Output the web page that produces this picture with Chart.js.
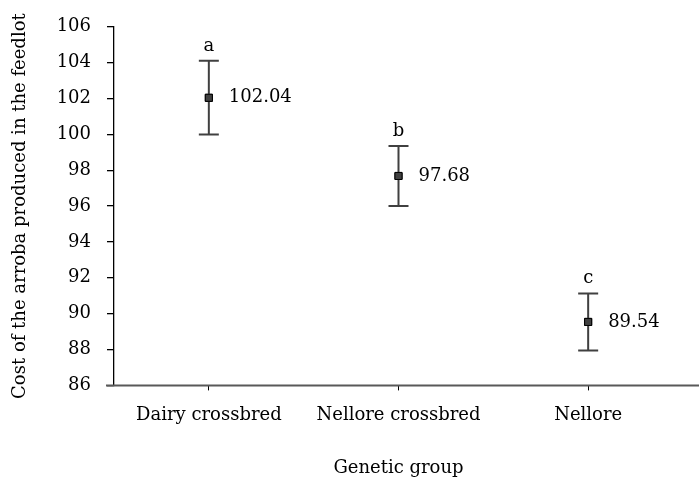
<!DOCTYPE html>
<html>
<head>
<meta charset="utf-8">
<script src="https://cdn.jsdelivr.net/npm/chart.js@4"></script>
<style>
  html, body { margin: 0; padding: 0; background: #fff; }
  #wrap { width: 699px; height: 477px; }
</style>
</head>
<body>
<div id="wrap"><canvas id="chart" width="699" height="477"></canvas></div>
<script>
  // data
  const groups = ['Dairy crossbred', 'Nellore crossbred', 'Nellore'];
  const means = [102.04, 97.68, 89.54];
  const errLow = [100.0, 96.0, 87.95];
  const errHigh = [104.1, 99.35, 91.13];
  const letters = ['a', 'b', 'c'];
  const yTicks = [86, 88, 90, 92, 94, 96, 98, 100, 102, 104, 106];

  const FONT = 'DejaVu Serif';
  const FS = 18;

  // error bars, letters and value labels
  const errorBars = {
    id: 'errorBars',
    afterDatasetsDraw(chart) {
      const ctx = chart.ctx;
      const x = chart.scales.x, y = chart.scales.y;
      ctx.save();
      ctx.strokeStyle = '#404040';
      ctx.lineWidth = 2;
      groups.forEach((g, i) => {
        const px = x.getPixelForValue(i);
        const top = y.getPixelForValue(errHigh[i]);
        const bot = y.getPixelForValue(errLow[i]);
        ctx.beginPath();
        ctx.moveTo(px, top); ctx.lineTo(px, bot);
        ctx.moveTo(px - 10, top); ctx.lineTo(px + 10, top);
        ctx.moveTo(px - 10, bot); ctx.lineTo(px + 10, bot);
        ctx.stroke();

        ctx.fillStyle = '#000';
        ctx.font = FS + 'px "' + FONT + '"';
        ctx.textAlign = 'center';
        ctx.textBaseline = 'alphabetic';
        ctx.fillText(letters[i], px, top - 10);

        ctx.textAlign = 'left';
        ctx.textBaseline = 'middle';
        ctx.fillText(means[i].toFixed(2), px + 20, y.getPixelForValue(means[i]));
      });
      // redraw marker on top of the bar
      const meta = chart.getDatasetMeta(0);
      meta.data.forEach(p => p.draw(ctx, chart.chartArea));

      // x axis line runs to the right edge
      ctx.strokeStyle = '#595959';
      ctx.lineWidth = 2;
      ctx.beginPath();
      ctx.moveTo(chart.chartArea.left - 8, y.bottom);
      ctx.lineTo(chart.width, y.bottom);
      ctx.stroke();
      ctx.restore();
    }
  };

  new Chart(document.getElementById('chart'), {
    type: 'line',
    data: {
      labels: groups,
      datasets: [{
        data: means,
        showLine: false,
        pointStyle: 'rect',
        pointRadius: 5,
        pointBackgroundColor: '#404040',
        pointBorderColor: '#000',
        pointBorderWidth: 1
      }]
    },
    options: {
      responsive: false,
      animation: false,
      layout: { padding: { top: 25, right: 16, left: 0, bottom: 0 } },
      plugins: { legend: { display: false }, tooltip: { enabled: false } },
      scales: {
        x: {
          offset: true,
          grid: { display: true, drawOnChartArea: false, color: '#000', tickLength: 5, offset: false },
          border: { display: false },
          ticks: { color: '#000', font: { family: FONT, size: FS, lineHeight: 1.2 }, padding: 14 },
          title: {
            display: true, text: 'Genetic group', color: '#000',
            font: { family: FONT, size: FS, lineHeight: 1.0 }, padding: { top: 19, bottom: 0 }
          }
        },
        y: {
          min: 86, max: 106,
          afterBuildTicks(s) { s.ticks = yTicks.map(v => ({ value: v })); },
          grid: { display: true, drawOnChartArea: false, color: '#000', tickLength: 7, lineWidth: 1.3 },
          border: { display: true, color: '#000', width: 1.3 },
          ticks: { color: '#000', font: { family: FONT, size: FS }, padding: 16 },
          title: {
            display: true, text: 'Cost of the arroba produced in the feedlot', color: '#000',
            font: { family: FONT, size: FS, lineHeight: 1.2 }, padding: { top: 10, bottom: 0 }
          },
          afterFit(s) { s.width = 114; }
        }
      }
    },
    plugins: [errorBars]
  });
</script>
</body>
</html>
